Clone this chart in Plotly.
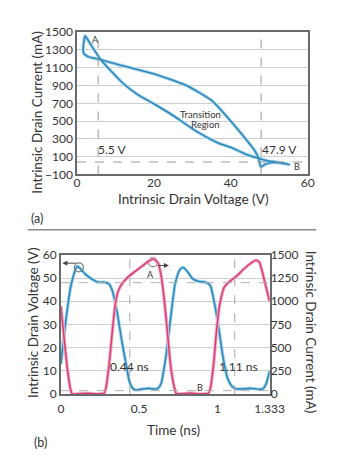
import plotly.graph_objects as go

# ---------- (a) I-V loop ----------
loop_v = [2.1, 1.8, 1.6, 1.7, 2.8, 6.2, 11.6, 20.2, 28.5, 35.1, 39.2, 43.3, 46.2, 47.3, 47.6,
          47.8, 49.0, 51.0, 53.0, 55.2, 53.0, 50.0, 47.4, 44.1, 40.0, 36.7, 30.9, 25.2, 20.2,
          15.7, 11.6, 6.2, 3.4, 2.1]
loop_i = [1460, 1400, 1320, 1264, 1225, 1190, 1125, 1029, 900, 730, 540, 330, 170, 80, 10,
          -15, 15, 35, 30, 12, 32, 50, 80, 125, 205, 255, 390, 557, 690,
          800, 940, 1190, 1373, 1460]

# ---------- (b) waveforms ----------
t_v = [0, 0.034, 0.065, 0.105, 0.156, 0.196, 0.236, 0.277, 0.307, 0.327, 0.358, 0.388, 0.418,
       0.438, 0.459, 0.479, 0.519, 0.560, 0.600, 0.620, 0.640, 0.671, 0.701, 0.731, 0.762,
       0.782, 0.812, 0.842, 0.883, 0.923, 0.954, 0.974, 1.004, 1.034, 1.065, 1.095, 1.125,
       1.206, 1.287, 1.307, 1.333]
volt = [13, 33, 47, 55, 51.7, 49.6, 48.2, 48.2, 47.5, 44.8, 35.7, 23.3, 12.2,
        5.3, 2.5, 1.8, 2.2, 2.5, 2.2, 2.5, 4.6, 16.4, 33, 48, 53.8,
        54.5, 52.4, 49.6, 48.5, 48.2, 46.8, 41.3, 30.2, 16.4, 6.7, 3.2, 2.2,
        2.5, 2.2, 3.9, 10]

t_i = [0, 0.024, 0.044, 0.065, 0.075, 0.12, 0.17, 0.22, 0.277, 0.287, 0.307, 0.327, 0.347,
       0.368, 0.398, 0.438, 0.479, 0.519, 0.560, 0.590, 0.620, 0.640, 0.661, 0.681, 0.701,
       0.721, 0.737, 0.78, 0.83, 0.88, 0.943, 0.954, 0.974, 0.994, 1.014, 1.044, 1.085,
       1.125, 1.166, 1.216, 1.246, 1.267, 1.287, 1.307, 1.333]
curr = [946, 547, 236, 28, 0, 5, 10, 3, 10, 62, 305, 651, 963,
        1119, 1205, 1275, 1327, 1379, 1431, 1455, 1413, 1275, 998, 651, 305,
        97, 7, 5, 12, 3, 10, 62, 305, 686, 963, 1154, 1223,
        1275, 1344, 1413, 1441, 1420, 1310, 1171, 998]

top_ref_v = [5.5, 47.9]
top_ref_i = [40]
bot_ref_t = [0.44, 1.11]
bot_ref_v = [48, 1.5]
x_ticks_a = [0, 20, 40, 60]
y_ticks_a = list(range(-100, 1501, 200))
x_ticks_b = [0, 0.5, 1, 1.333]
x_text_b = ["0", "0.5", "1", "1.333"]
y_ticks_b = list(range(0, 61, 10))
y2_ticks_b = list(range(0, 1501, 250))

W, H = 353, 466
FONT = "Lato"
BLUE = "#2f86b8"
HALO = "#a9d9ef"
PINK = "#d8407a"
PHALO = "#f2b3c9"
GRID = "#cfcfcf"
FRAME = "#6a6a6a"

fig = go.Figure()
# top loop
fig.add_trace(go.Scatter(x=loop_v, y=loop_i, mode="lines",
                         line=dict(color=HALO, width=3.5, shape="spline", smoothing=0.5),
                         xaxis="x", yaxis="y", hoverinfo="skip"))
fig.add_trace(go.Scatter(x=loop_v, y=loop_i, mode="lines",
                         line=dict(color=BLUE, width=1.6, shape="spline", smoothing=0.5),
                         xaxis="x", yaxis="y"))
# bottom waveforms
fig.add_trace(go.Scatter(x=t_i, y=curr, mode="lines", line=dict(color=PHALO, width=3.5, shape="spline", smoothing=0.6),
                         xaxis="x2", yaxis="y3", hoverinfo="skip"))
fig.add_trace(go.Scatter(x=t_i, y=curr, mode="lines", line=dict(color=PINK, width=1.6, shape="spline", smoothing=0.6),
                         xaxis="x2", yaxis="y3"))
fig.add_trace(go.Scatter(x=t_v, y=volt, mode="lines", line=dict(color=HALO, width=3.5, shape="spline", smoothing=0.6),
                         xaxis="x2", yaxis="y2", hoverinfo="skip"))
fig.add_trace(go.Scatter(x=t_v, y=volt, mode="lines", line=dict(color=BLUE, width=1.6, shape="spline", smoothing=0.6),
                         xaxis="x2", yaxis="y2"))
# marker circles
fig.add_trace(go.Scatter(x=[0.115, 0.588], y=[54.6, 56.8], mode="markers",
                         marker=dict(symbol="circle-open", size=9, color="#777", line=dict(width=1.2)),
                         xaxis="x2", yaxis="y2"))

shapes = []
for v in top_ref_v:
    shapes.append(dict(type="line", xref="x", yref="y", x0=v, x1=v, y0=-100, y1=1500,
                       line=dict(color="#9a9a9a", width=1, dash="dash")))
for i in top_ref_i:
    shapes.append(dict(type="line", xref="x", yref="y", x0=0, x1=60, y0=i, y1=i,
                       line=dict(color="#9a9a9a", width=1, dash="dash")))
for t in bot_ref_t:
    shapes.append(dict(type="line", xref="x2", yref="y2", x0=t, x1=t, y0=0, y1=60,
                       line=dict(color="#a8a8a8", width=1, dash="dash")))
for v in bot_ref_v:
    shapes.append(dict(type="line", xref="x2", yref="y2", x0=0, x1=1.333, y0=v, y1=v,
                       line=dict(color="#b0b0b0", width=1, dash="dash")))
# separator line
shapes.append(dict(type="line", xref="paper", yref="paper", x0=26 / W, x1=330 / W,
                   y0=1 - 229 / H, y1=1 - 229 / H, line=dict(color="#8a8a8a", width=1.5)))

ann = []
def txt(x, y, s, size=12, xref="paper", yref="paper", angle=0, color="#333", xanchor="center"):
    ann.append(dict(x=x, y=y, xref=xref, yref=yref, text=s, showarrow=False, textangle=angle,
                    font=dict(family=FONT, size=size, color=color), xanchor=xanchor, yanchor="middle"))

# axis titles (pixel positions)
txt(201 / W, 1 - 197 / H, "Intrinsic Drain Voltage (V)", 13.5)
txt(35 / W, 1 - 108 / H, "Intrinsic Drain Current (mA)", 13.5, angle=-90)
txt(36 / 353, 1 - 218 / H, "(a)", 12.5)
txt(180 / W, 1 - 436 / H, "Time (ns)", 13.5)
txt(31 / W, 1 - 325 / H, "Intrinsic Drain Voltage (V)", 13.5, angle=-90)
txt(324 / W, 1 - 335 / H, "Intrinsic Drain Current (mA)", 13.5, angle=90)
txt(40 / W, 1 - 449 / H, "(b)", 12.5)
# in-plot text (a)
txt(4.9, 1420, "A", 9, "x", "y")
txt(57.3, -10, "B", 9, "x", "y")
txt(32.1, 575, "Transition", 9.5, "x", "y")
txt(33.5, 460, "Region", 9.5, "x", "y")
txt(9.0, 185, "5.5 V", 12, "x", "y")
txt(52.6, 185, "47.9 V", 12, "x", "y")
# in-plot text (b)
txt(0.57, 51.5, "A", 9, "x2", "y2")
txt(0.89, 2.8, "B", 9, "x2", "y2")
txt(0.44, 12, "0.44 ns", 12, "x2", "y2")
txt(1.135, 12, "1.11 ns", 12, "x2", "y2")
# arrows
ann.append(dict(x=0.01, y=56.4, ax=0.105, ay=56.4, xref="x2", yref="y2", axref="x2", ayref="y2",
                showarrow=True, arrowhead=2, arrowsize=1, arrowwidth=1, arrowcolor="#444", text=""))
ann.append(dict(x=0.69, y=55.4, ax=0.61, ay=55.4, xref="x2", yref="y2", axref="x2", ayref="y2",
                showarrow=True, arrowhead=2, arrowsize=1, arrowwidth=1, arrowcolor="#444", text=""))

tickfont = dict(family=FONT, size=12, color="#333")
axis_common = dict(showline=True, linecolor=FRAME, linewidth=1.5, mirror=True, zeroline=False,
                   tickfont=tickfont, ticks="")

fig.update_layout(
    width=W, height=H, margin=dict(l=0, r=0, t=0, b=0),
    paper_bgcolor="white", plot_bgcolor="white", showlegend=False,
    font=dict(family=FONT),
    xaxis=dict(domain=[78 / W, 321 / W], anchor="y", range=[0, 60], tickvals=x_ticks_a,
               showgrid=False, ticklabelstandoff=-4, **axis_common),
    yaxis=dict(domain=[1 - 172 / H, 1 - 25 / H], anchor="x", range=[-100, 1500], tickvals=y_ticks_a,
               showgrid=True, gridcolor=GRID, gridwidth=1, **axis_common),
    xaxis2=dict(domain=[61 / W, 281 / W], anchor="y2", range=[0, 1.333], tickvals=x_ticks_b,
                ticktext=x_text_b, showgrid=False, ticklabelstandoff=3, **axis_common),
    yaxis2=dict(domain=[1 - 399 / H, 1 - 255 / H], anchor="x2", range=[0, 60], tickvals=y_ticks_b,
                showgrid=True, gridcolor=GRID, gridwidth=1, **axis_common),
    yaxis3=dict(overlaying="y2", anchor="x2", side="right", range=[0, 1500], tickvals=y2_ticks_b,
                showgrid=False, showline=False, zeroline=False, tickfont=tickfont, ticks=""),
    shapes=shapes, annotations=ann,
)

fig.write_html("out.html")
